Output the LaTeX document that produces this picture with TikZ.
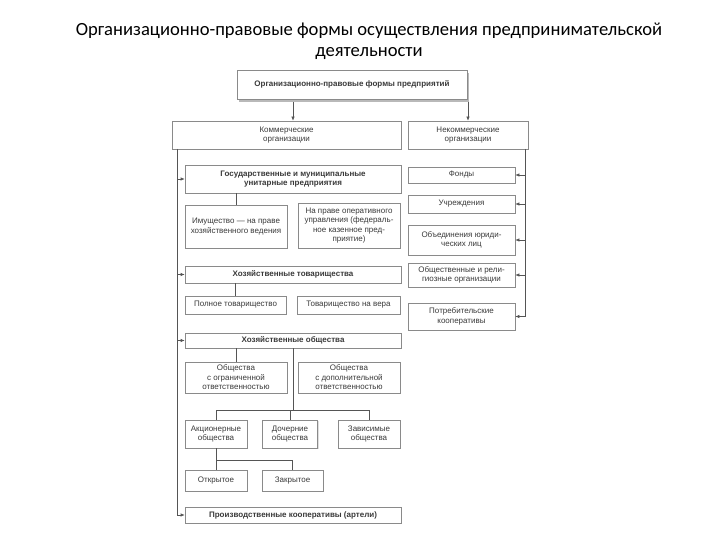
\documentclass[tikz,border=0pt]{standalone}
\usepackage{fontspec}
\setmainfont{Liberation Sans}
\newfontfamily\titlefont{Carlito}
\usetikzlibrary{arrows.meta,shadows}
\definecolor{txt}{HTML}{3A3A3A}
\definecolor{edge}{HTML}{8A8A8A}
\definecolor{ln}{HTML}{555555}
\tikzset{
  box/.style={draw=edge, line width=0.6pt, fill=white, inner sep=0pt, align=center,
    text=txt, font=\fontsize{8}{9.6}\selectfont,
    drop shadow={shadow xshift=1.2pt, shadow yshift=-1.2pt, fill=gray!25, opacity=1}},
  bbox/.style={box, font=\bfseries\fontsize{8}{9.6}\selectfont},
  topbox/.style={bbox, drop shadow={shadow xshift=2pt, shadow yshift=-3.5pt, fill=gray!55, opacity=1}},
  conn/.style={draw=ln, line width=0.6pt},
  arr/.style={conn, -{Latex[length=4pt,width=3.4pt]}}
}
\begin{document}
\begin{tikzpicture}[x=1pt,y=-1pt]
\useasboundingbox[fill=white] (0,0) rectangle (720,540);
\node[font=\titlefont\fontsize{18.6}{21}\selectfont, align=center] (title) at (369,41)
  {Организационно-правовые формы осуществления предпринимательской\\деятельности};
% top
\node[topbox, minimum width=230pt, minimum height=29pt] (top) at (352,84.5) {Организационно-правовые формы предприятий};
\node[box, minimum width=229pt, minimum height=28pt] (comm) at (286.5,135) {Коммерческие\\организации};
\node[box, minimum width=120pt, minimum height=28pt] (noncomm) at (468,135) {Некоммерческие\\организации};
% left column
\node[bbox, minimum width=216pt, minimum height=28pt] (gos) at (293,179) {Государственные и муниципальные\\унитарные предприятия};
\node[box, minimum width=102pt, minimum height=43pt] (imush) at (236,226.5) {Имущество — на праве\\хозяйственного ведения};
\node[box, minimum width=102pt, minimum height=45pt] (naprave) at (349,225.5) {На праве оперативного\\управления (федераль-\\ное казенное пред-\\приятие)};
\node[bbox, minimum width=216pt, minimum height=17pt] (hoztov) at (293,274.5) {Хозяйственные товарищества};
\node[box, minimum width=101pt, minimum height=18pt] (polnoe) at (235.5,305) {Полное товарищество};
\node[box, minimum width=103pt, minimum height=18pt] (navera) at (348.5,305) {Товарищество на вера};
\node[bbox, minimum width=216pt, minimum height=15pt] (hozob) at (293,340.5) {Хозяйственные общества};
\node[box, minimum width=102pt, minimum height=31pt] (ogr) at (236,377.5) {Общества\\с ограниченной\\ответственностью};
\node[box, minimum width=102pt, minimum height=31pt] (dop) at (349,377.5) {Общества\\с дополнительной\\ответственностью};
\node[box, minimum width=62pt, minimum height=28pt] (akc) at (216,434) {Акционерные\\общества};
\node[box, minimum width=55pt, minimum height=28pt] (doch) at (290,434) {Дочерние\\общества};
\node[box, minimum width=62pt, minimum height=28pt] (zav) at (369,434) {Зависимые\\общества};
\node[box, minimum width=62pt, minimum height=21pt] (otkr) at (216,480.5) {Открытое};
\node[box, minimum width=61pt, minimum height=21pt] (zakr) at (292.5,480.5) {Закрытое};
\node[bbox, minimum width=216pt, minimum height=16pt] (proizv) at (293,515) {Производственные кооперативы (артели)};
% right column
\node[box, minimum width=107pt, minimum height=16pt] (fondy) at (461.5,175) {Фонды};
\node[box, minimum width=107pt, minimum height=18pt] (uchr) at (461.5,204) {Учреждения};
\node[box, minimum width=107pt, minimum height=30pt] (obyed) at (461.5,240) {Объединения юриди-\\ческих лиц};
\node[box, minimum width=107pt, minimum height=24pt] (obshch) at (461.5,275) {Общественные и рели-\\гиозные организации};
\node[box, minimum width=107pt, minimum height=27pt] (potreb) at (461.5,316.5) {Потребительские\\кооперативы};
% spines
\coordinate (L) at (177,149);
\coordinate (R) at (525,149);
% connectors from top
\draw[arr] ([yshift=-3pt]top.south -| gos.north) -- (comm.north -| gos.north);
\draw[arr] ([yshift=-3pt]top.south -| noncomm.north) -- (noncomm.north);
% left spine
\draw[conn] (L) -- (L |- proizv.west);
\draw[arr] (L |- gos.west) -- (gos.west);
\draw[arr] (L |- hoztov.west) -- (hoztov.west);
\draw[arr] (L |- hozob.west) -- (hozob.west);
\draw[arr] (L |- proizv.west) -- (proizv.west);
% right spine
\draw[conn] (R) -- (R |- potreb.east);
\draw[arr] (R |- fondy.east) -- (fondy.east);
\draw[arr] (R |- uchr.east) -- (uchr.east);
\draw[arr] (R |- obyed.east) -- (obyed.east);
\draw[arr] (R |- obshch.east) -- (obshch.east);
\draw[arr] (R |- potreb.east) -- (potreb.east);
% inner connectors
\draw[conn] (gos.south -| imush.north) -- (imush.north);
\draw[conn] (hoztov.south -| polnoe.north) -- (polnoe.north);
\draw[conn] (hozob.south -| ogr.north) -- (ogr.north);
\coordinate (b1) at (293,410);
\draw[conn] (hozob.south) -- (b1);
\draw[conn] (akc.north) -- (akc.north |- b1) -- (zav.north |- b1) -- (zav.north);
\draw[conn] (doch.north |- b1) -- (doch.north);
\coordinate (b2) at (216,460);
\draw[conn] (akc.south) -- (otkr.north);
\draw[conn] (otkr.north |- b2) -- (zakr.north |- b2) -- (zakr.north);
\end{tikzpicture}
\end{document}
